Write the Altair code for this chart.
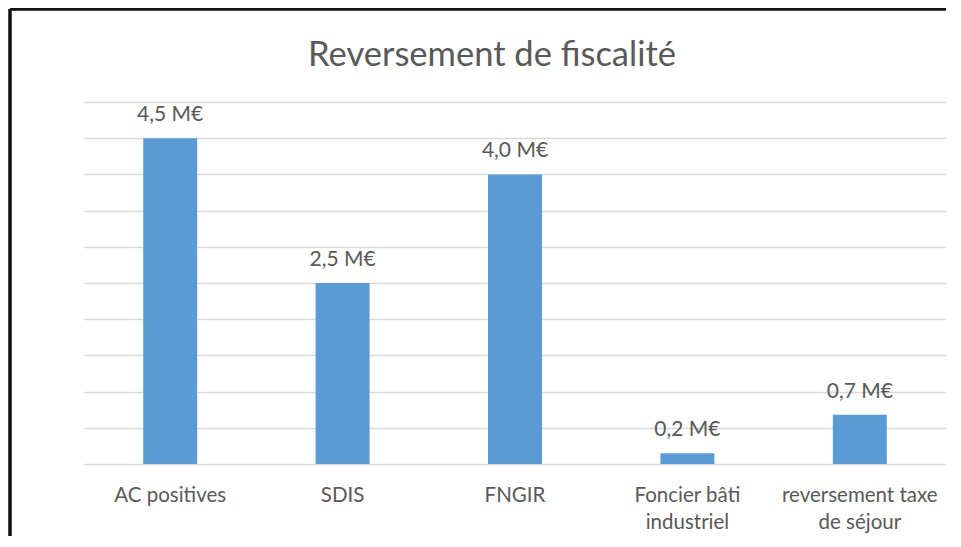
import altair as alt
import pandas as pd

title_text = "Reversement de fiscalité"
categories = ["AC positives", "SDIS", "FNGIR", "Foncier bâti|industriel", "reversement taxe|de séjour"]
values = [4.5, 2.5, 4.0, 0.15, 0.68]
labels = ["4,5 M€", "2,5 M€", "4,0 M€", "0,2 M€", "0,7 M€"]
grid_values = [0, 0.5, 1, 1.5, 2, 2.5, 3, 3.5, 4, 4.5, 5]

df = pd.DataFrame({"cat": categories, "val": values, "lab": labels})

FONT = "Lato"
TXT = "#595959"

x_enc = alt.X("cat:N", sort=categories, title=None,
              scale=alt.Scale(paddingInner=0.687, paddingOuter=0.3435),
              axis=alt.Axis(labelExpr="split(datum.value, '|')", labelAngle=0,
                            labelFont=FONT, labelFontSize=20.5, labelColor=TXT,
                            labelPadding=21, labelLineHeight=27,
                            domain=False, ticks=False, grid=False))
y_enc = alt.Y("val:Q", title=None,
              scale=alt.Scale(domain=[0, 5], nice=False),
              axis=alt.Axis(values=grid_values, labels=False,
                            ticks=False, domain=False, grid=True,
                            gridColor="#D9D9D9", gridWidth=1.5))

base = alt.Chart(df)

bars = base.mark_bar(color="#5B9BD5").encode(x=x_enc, y=y_enc)

text = base.mark_text(font=FONT, fontSize=21, color=TXT, baseline="alphabetic", dy=-17).encode(
    x=x_enc, y=y_enc, text="lab:N")

title = alt.Chart(pd.DataFrame({"t": [title_text]})).mark_text(
    font=FONT, fontSize=34.5, color=TXT, baseline="alphabetic", align="center").encode(
    x=alt.value(408), y=alt.value(-36), text="t:N")

border_left = base.mark_rule(color="#111111", strokeWidth=2.5).encode(
    x=alt.value(-74), y=alt.value(-93), y2=alt.value(440))
border_top = base.mark_rule(color="#111111", strokeWidth=2.5).encode(
    x=alt.value(-74), x2=alt.value(862), y=alt.value(-93))

chart = alt.layer(bars, text, title, border_left, border_top).properties(
    width=862, height=362,
    autosize=alt.AutoSizeParams(type="none"),
    padding={"left": 76, "top": 94, "right": 0, "bottom": 72},
).configure_view(stroke=None)

chart.save("out.html", embed_options={"renderer": "svg", "actions": False})
